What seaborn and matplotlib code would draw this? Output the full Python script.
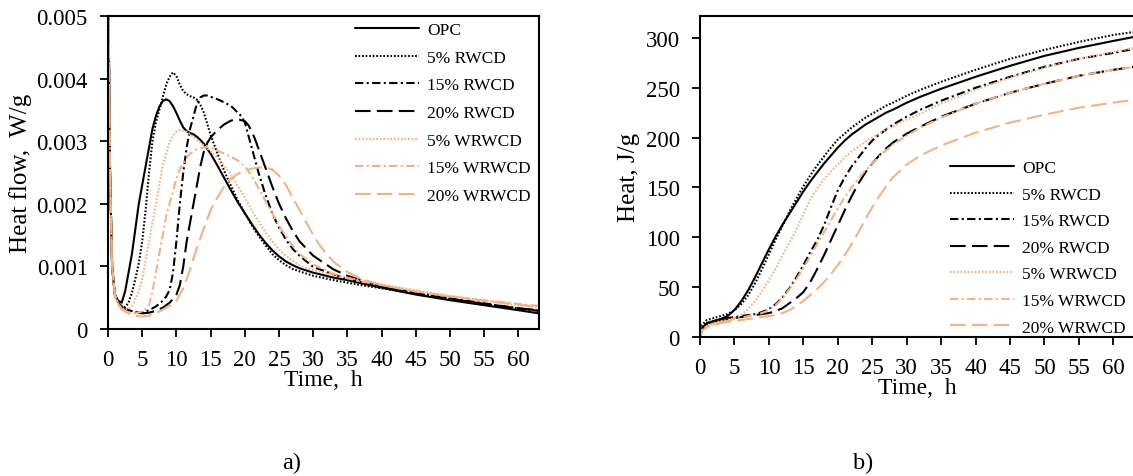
import pandas as pd
import numpy as np
import matplotlib
matplotlib.use('Agg')
import matplotlib.pyplot as plt
import seaborn as sns

# a) heat flow, W/g  (each mix has its own time points)
opc_t = [0, 0.3, 0.6, 1, 1.5, 2, 2.5, 3, 3.5, 4, 4.5, 5, 5.5, 6, 6.5, 7, 7.5, 8, 8.5, 9, 9.5, 10, 10.5,
         11, 11.5, 12, 12.5, 13, 13.5, 14, 15, 16, 17, 18, 19, 20, 21, 22, 23, 24, 25, 26, 27, 28,
         30, 33, 35, 37, 40, 45, 50, 55, 60, 63]
opc_a = [0.006, 0.0025, 0.001, 0.00055, 0.00045, 0.00042, 0.0006, 0.0009, 0.0012, 0.0016, 0.002, 0.0023,
         0.0026, 0.0029, 0.0032, 0.0034, 0.00355, 0.00364, 0.00367, 0.00364, 0.00356, 0.00345, 0.00333,
         0.00322, 0.00316, 0.00313, 0.00311, 0.00307, 0.00302, 0.00296, 0.0028, 0.00261, 0.00241, 0.00221,
         0.00202, 0.00185, 0.00168, 0.00152, 0.00138, 0.00126, 0.00116, 0.00108, 0.00102, 0.00097,
         0.0009, 0.00082, 0.00078, 0.00073, 0.00066, 0.00055, 0.00046, 0.00038, 0.0003, 0.00025]

r5_t = [0, 0.3, 0.6, 1, 1.5, 2, 2.5, 3, 3.5, 4, 4.5, 5, 5.5, 6, 6.5, 7, 7.5, 8, 8.5, 9, 9.5, 10, 10.5,
        11, 11.5, 12, 12.5, 13, 13.5, 14, 15, 16, 17, 18, 19, 20, 21, 22, 23, 24, 25, 26, 27, 28,
        30, 33, 35, 37, 40, 45, 50, 55, 60, 63]
r5_a = [0.006, 0.0025, 0.001, 0.00055, 0.00042, 0.00037, 0.00035, 0.00042, 0.00058, 0.0008, 0.00105, 0.0014,
        0.0019, 0.0025, 0.003, 0.0033, 0.0035, 0.0037, 0.0039, 0.00403, 0.0041, 0.00404, 0.0039,
        0.0038, 0.00375, 0.00372, 0.0037, 0.00366, 0.00358, 0.00346, 0.0031, 0.0028, 0.00252, 0.00228,
        0.00205, 0.00185, 0.00166, 0.00149, 0.00134, 0.0012, 0.0011, 0.00102, 0.00096, 0.00092,
        0.00085, 0.00078, 0.00074, 0.0007, 0.00065, 0.00056, 0.00048, 0.0004, 0.00033, 0.00029]

r15_t = [0, 0.3, 0.6, 1, 1.5, 2, 3, 4, 5, 6, 7, 8, 8.5, 9, 9.5, 10, 10.5, 11, 11.5, 12, 12.5, 13, 13.5,
         14, 14.5, 15, 16, 17, 18, 18.5, 19, 19.5, 20, 20.5, 21, 21.5, 22, 23, 24, 25, 26, 27, 28,
         30, 33, 35, 37, 40, 45, 50, 55, 60, 63]
r15_a = [0.006, 0.0025, 0.001, 0.00055, 0.00042, 0.00035, 0.0003, 0.00027, 0.00026, 0.0003, 0.00036, 0.00045,
         0.00052, 0.00062, 0.0009, 0.0014, 0.002, 0.0025, 0.0029, 0.0032, 0.0034, 0.0036, 0.0037,
         0.00373, 0.00373, 0.00371, 0.00367, 0.00362, 0.00356, 0.00351, 0.00345, 0.0034, 0.0033, 0.0031,
         0.0029, 0.0027, 0.0025, 0.00215, 0.00185, 0.00162, 0.00143, 0.00128, 0.00117,
         0.00099, 0.00087, 0.0008, 0.00075, 0.00068, 0.00058, 0.00049, 0.00041, 0.00033, 0.00029]

r20_t = [0, 0.3, 0.6, 1, 1.5, 2, 3, 4, 5, 6, 7, 8, 9, 9.5, 10, 10.5, 11, 11.5, 12, 12.5, 13, 13.5, 14,
         14.5, 15, 16, 17, 18, 19, 20, 20.5, 21, 21.5, 22, 23, 24, 25, 26, 27, 28,
         30, 33, 35, 37, 40, 45, 50, 55, 60, 63]
r20_a = [0.006, 0.0025, 0.001, 0.00055, 0.00042, 0.00035, 0.0003, 0.00027, 0.00025, 0.00026, 0.00029, 0.00034,
         0.00042, 0.00048, 0.00055, 0.0007, 0.001, 0.0014, 0.0017, 0.002, 0.0023, 0.0026, 0.00283,
         0.00297, 0.00306, 0.00318, 0.00327, 0.00333, 0.00335, 0.00332, 0.00326, 0.00316, 0.00303, 0.00288,
         0.00258, 0.00228, 0.002, 0.00177, 0.00157, 0.0014,
         0.00117, 0.00095, 0.00085, 0.00078, 0.00068, 0.00057, 0.00048, 0.0004, 0.00033, 0.0003]

w5_t = [0, 0.3, 0.6, 1, 1.5, 2, 2.5, 3, 3.5, 4, 4.5, 5, 5.5, 6, 6.5, 7, 7.5, 8, 8.5, 9, 9.5, 10, 10.5,
        11, 11.5, 12, 13, 14, 15, 16, 17, 18, 19, 20, 21, 22, 23, 24, 25, 26, 27, 28,
        30, 33, 35, 37, 40, 45, 50, 55, 60, 63]
w5_a = [0.006, 0.0025, 0.001, 0.00055, 0.0004, 0.00034, 0.00031, 0.00032, 0.00037, 0.00047, 0.0006, 0.0008,
        0.0011, 0.0014, 0.0017, 0.002, 0.0023, 0.0026, 0.0028, 0.00298, 0.00309, 0.00315, 0.00318,
        0.00317, 0.00315, 0.00311, 0.00302, 0.00293, 0.00284, 0.00274, 0.00261, 0.00246, 0.00228, 0.0021,
        0.0019, 0.00172, 0.00155, 0.0014, 0.00127, 0.00117, 0.00109, 0.00102,
        0.00094, 0.00086, 0.00082, 0.00078, 0.00071, 0.00062, 0.00053, 0.00045, 0.00038, 0.00034]

w15_t = [0, 0.3, 0.6, 1, 1.5, 2, 3, 4, 5, 5.5, 6, 6.5, 7, 7.5, 8, 8.5, 9, 9.5, 10, 10.5, 11, 11.5, 12,
         13, 14, 15, 16, 17, 18, 19, 20, 21, 22, 23, 24, 25, 26, 27, 28,
         30, 33, 35, 37, 40, 45, 50, 55, 60, 63]
w15_a = [0.006, 0.0025, 0.001, 0.00055, 0.0004, 0.00032, 0.00027, 0.00025, 0.00028, 0.00032, 0.00038, 0.0006,
         0.0009, 0.0012, 0.0015, 0.0018, 0.002, 0.0022, 0.0024, 0.00255, 0.00265, 0.00273, 0.0028,
         0.00287, 0.0029, 0.0029, 0.00285, 0.0028, 0.00275, 0.00269, 0.0026, 0.00245, 0.00225, 0.00205,
         0.00185, 0.00165, 0.00148, 0.00133, 0.0012,
         0.00103, 0.00088, 0.00081, 0.00076, 0.0007, 0.0006, 0.00052, 0.00046, 0.0004, 0.00037]

w20_t = [0, 0.3, 0.6, 1, 1.5, 2, 3, 4, 5, 6, 7, 8, 9, 10, 11, 12, 13, 14, 15, 16, 17, 18, 19, 20,
         21, 22, 23, 24, 25, 26, 27, 28, 29, 30, 31, 32, 33, 35, 37, 40, 45, 50, 55, 60, 63]
w20_a = [0.006, 0.0025, 0.001, 0.00055, 0.0004, 0.00031, 0.00025, 0.00021, 0.0002, 0.00021, 0.00025, 0.00031,
         0.00037, 0.00045, 0.00065, 0.00095, 0.0013, 0.0016, 0.0019, 0.0021, 0.00228, 0.0024, 0.00248,
         0.00253, 0.00256, 0.00258, 0.00258, 0.00255, 0.00245, 0.0023, 0.0021, 0.0019, 0.0017, 0.0015,
         0.00133, 0.00119, 0.00107, 0.00091, 0.0008, 0.0007, 0.0006, 0.00052, 0.00045, 0.00039, 0.00035]

# b) cumulative heat, J/g
t_b = [0, 0.3, 1, 2, 3, 4, 5, 6, 7, 8, 9, 10, 11, 12, 13, 14, 15, 16, 17, 18, 19, 20,
       21, 22, 23, 24, 25, 26, 27, 28, 30, 32, 35, 40, 45, 50, 55, 60, 63]
opc_b = [0, 9, 14, 16, 18, 21, 27, 36, 47, 60, 74, 88, 101, 113, 124, 135, 146, 156, 165, 174, 182, 190,
         197, 203, 208, 213, 217, 221, 225, 228, 235, 241, 249, 261, 272, 282, 290, 297, 301]
r5_b = [0, 12, 17, 19, 21, 23, 27, 33, 42, 54, 68, 83, 98, 112, 126, 139, 151, 162, 172, 181, 190, 198,
        204, 210, 215, 220, 224, 228, 232, 235, 242, 248, 256, 268, 279, 288, 296, 303, 306]
r15_b = [0, 8, 13, 16, 18, 19, 20, 21, 22, 23, 25, 28, 33, 40, 49, 60, 72, 85, 97, 112, 130, 147,
         160, 171, 180, 189, 197, 203, 208, 213, 221, 228, 237, 250, 261, 271, 279, 285, 289]
r20_b = [0, 8, 12, 15, 17, 18, 19, 20, 21, 22, 23, 24, 26, 29, 34, 39, 45, 55, 68, 82, 97, 112,
         127, 141, 154, 165, 174, 182, 189, 195, 204, 211, 221, 234, 245, 254, 262, 268, 271]
w5_b = [0, 7, 11, 14, 16, 17, 19, 22, 28, 36, 46, 57, 69, 82, 95, 108, 123, 138, 149, 158, 166, 173,
        180, 186, 191, 196, 200, 204, 208, 211, 218, 224, 234, 248, 260, 270, 279, 286, 290]
w15_b = [0, 7, 11, 13, 15, 16, 18, 19, 21, 22, 24, 27, 32, 39, 48, 58, 69, 81, 93, 105, 117, 129,
         140, 150, 159, 167, 174, 181, 187, 193, 202, 210, 220, 234, 245, 254, 262, 268, 271]
w20_b = [0, 6, 10, 12, 14, 15, 16, 17, 18, 19, 20, 21, 22, 24, 27, 31, 36, 42, 48, 55, 63, 72,
         82, 93, 105, 118, 130, 141, 151, 160, 173, 182, 192, 205, 215, 223, 230, 235, 238]

labels = ['OPC', '5% RWCD', '15% RWCD', '20% RWCD', '5% WRWCD', '15% WRWCD', '20% WRWCD']
times_a = [opc_t, r5_t, r15_t, r20_t, w5_t, w15_t, w20_t]
series_a = [opc_a, r5_a, r15_a, r20_a, w5_a, w15_a, w20_a]
series_b = [opc_b, r5_b, r15_b, r20_b, w5_b, w15_b, w20_b]

orange = '#F4B183'
palette = dict(zip(labels, ['black'] * 4 + [orange] * 3))
dot = (0.8, 0.9)
dashdot = (4, 1.6, 1, 1.6)
longdash = (7.5, 3)
dashes = dict(zip(labels, ['', dot, dashdot, longdash, dot, dashdot, longdash]))

frames_a = [pd.DataFrame({'t': t, 'v': v, 'mix': lab}) for lab, t, v in zip(labels, times_a, series_a)]
frames_b = [pd.DataFrame({'t': t_b, 'v': v, 'mix': lab}) for lab, v in zip(labels, series_b)]
df_a = pd.concat(frames_a, ignore_index=True)
df_b = pd.concat(frames_b, ignore_index=True)

sns.set_style('ticks')
plt.rcParams['font.family'] = ['Liberation Serif', 'DejaVu Serif']
plt.rcParams['text.color'] = 'black'
plt.rcParams['axes.labelcolor'] = 'black'

W, H = 1133, 477
fig = plt.figure(figsize=(W / 100, H / 100), dpi=100)
ax1 = fig.add_axes([108 / W, 1 - 330 / H, 431 / W, 313 / H])
ax2 = fig.add_axes([700 / W, 1 - 338 / H, 434 / W, 321 / H])

for ax, df in [(ax1, df_a), (ax2, df_b)]:
    sns.lineplot(data=df, x='t', y='v', hue='mix', style='mix', palette=palette,
                 dashes=dashes, linewidth=1.5, sort=False, estimator=None, ax=ax)
    ax.tick_params(direction='out', length=6, width=1.3, labelsize=16.5, colors='black',
                   top=False, right=False, pad=8.5)
    for s in ax.spines.values():
        s.set_color('black')
        s.set_linewidth(1.5)
    ax.set_xticks([0, 5, 10, 15, 20, 25, 30, 35, 40, 45, 50, 55, 60])
    ax.set_xlim(0, 63)
    ax.set_xlabel('Time,  h', fontsize=17, labelpad=-1)

ax1.set_ylim(0, 0.005)
ax1.set_yticks([0, 0.001, 0.002, 0.003, 0.004, 0.005])
ax1.set_yticklabels(['0', '0.001', '0.002', '0.003', '0.004', '0.005'])
ax1.set_ylabel('Heat flow,  W/g', fontsize=18, labelpad=3)

ax2.set_ylim(0, 322)
ax2.set_yticks([0, 50, 100, 150, 200, 250, 300])
ax2.spines['right'].set_visible(False)
ax2.set_ylabel('Heat, J/g', fontsize=18, labelpad=4)

for ax, x0, y0, sp in [(ax1, 355, 23, 0.66), (ax2, 950, 161, 0.6)]:
    h, l = ax.get_legend_handles_labels()
    ax.legend(h, l, frameon=False, fontsize=12.5, handlelength=3.7, handletextpad=0.45,
              labelspacing=sp, loc='upper left', bbox_to_anchor=(x0 / W, 1 - y0 / H),
              bbox_transform=fig.transFigure, borderaxespad=0, borderpad=0)

fig.text(292 / W, 1 - 463 / H, 'a)', fontsize=17.5, ha='center', va='center')
fig.text(863 / W, 1 - 463 / H, 'b)', fontsize=17.5, ha='center', va='center')

fig.savefig('out.png', dpi=100)
